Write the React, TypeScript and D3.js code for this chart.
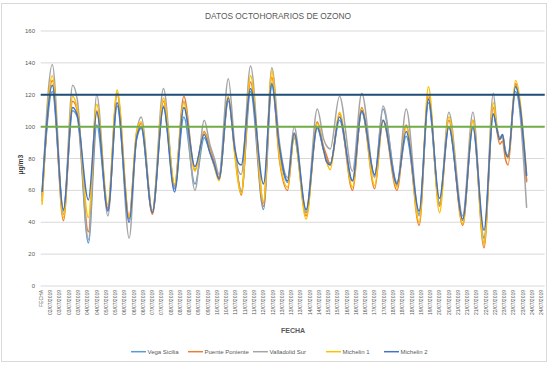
import React from 'react';
import * as d3 from 'd3';

// hours counted from 02/07/2019 00:00 (first row of data is 07:00)
const hours = [
  7, 18, 30, 40, 45, 57, 66, 78, 88, 101, 109, 114, 126, 138, 150, 160, 172, 182, 188, 193,
  198, 208, 215, 219, 222, 232, 246, 255, 263, 272, 279, 292, 304, 311, 314, 318, 328, 342, 352, 366,
  375, 390, 400, 414, 424, 436, 446, 461, 472, 484, 494, 498, 501, 504, 507, 510, 518, 530,
];

const vegaSicilia = [
  57, 122, 47, 110, 106, 27, 101, 48, 113, 42, 92, 99, 46, 113, 61, 106, 64, 93, 84, 75,
  68, 116, 85, 66, 59, 122, 48, 126, 85, 65, 93, 46, 99, 85, 80, 77, 104, 66, 109, 69,
  111, 65, 94, 45, 115, 52, 100, 41, 100, 30, 108, 98, 92, 94, 84, 82, 122, 66,
];
const puentePoniente = [
  53, 129, 41, 116, 110, 34, 110, 49, 121, 43, 95, 102, 45, 116, 63, 119, 73, 97, 87, 77,
  68, 118, 84, 65, 57, 128, 50, 131, 80, 60, 95, 44, 103, 87, 82, 76, 108, 60, 112, 61,
  104, 60, 101, 38, 120, 50, 104, 38, 104, 24, 112, 97, 89, 91, 80, 76, 127, 65,
];
const valladolidSur = [
  56, 139, 45, 126, 117, 29, 120, 44, 121, 30, 96, 106, 47, 124, 62, 116, 60, 104, 89, 80,
  70, 130, 88, 72, 70, 138, 52, 137, 91, 68, 100, 46, 111, 92, 88, 86, 119, 72, 121, 68,
  113, 63, 111, 44, 118, 51, 109, 44, 109, 27, 121, 100, 93, 95, 85, 82, 126, 49,
];
const michelin1 = [
  51, 132, 43, 119, 111, 43, 114, 51, 123, 43, 97, 103, 47, 118, 64, 115, 72, 96, 85, 75,
  66, 119, 82, 64, 58, 132, 53, 135, 82, 62, 94, 42, 102, 85, 78, 73, 109, 62, 111, 63,
  104, 62, 100, 40, 125, 46, 106, 39, 104, 26, 115, 99, 92, 94, 84, 80, 129, 70,
];
const michelin2 = [
  59, 126, 48, 112, 107, 54, 109, 47, 115, 40, 93, 100, 46, 112, 59, 112, 75, 95, 84, 76,
  67, 118, 86, 77, 76, 124, 64, 127, 88, 66, 96, 48, 100, 85, 78, 76, 106, 66, 110, 70,
  104, 64, 97, 47, 117, 55, 100, 42, 100, 35, 108, 98, 92, 95, 84, 81, 125, 69,
];

const seriesNames = ['Vega Sicilia', 'Puente Poniente', 'Valladolid Sur', 'Michelin 1', 'Michelin 2'];
const seriesColors = ['#5B9BD5', '#ED7D31', '#A5A5A5', '#FFC000', '#4472C4'];
const seriesValues = [vegaSicilia, puentePoniente, valladolidSur, michelin1, michelin2];

const limits = [
  { value: 120, color: '#1F4E79' },
  { value: 100, color: '#70AD47' },
];

const yTicks = [0, 20, 40, 60, 80, 100, 120, 140, 160];

const xTickLabels = [
  'FECHA',
  '02/07/2019', '03/07/2019', '03/07/2019', '03/07/2019', '04/07/2019', '04/07/2019',
  '05/07/2019', '05/07/2019', '06/07/2019', '06/07/2019', '06/07/2019', '07/07/2019',
  '07/07/2019', '08/07/2019', '08/07/2019', '08/07/2019', '09/07/2019', '09/07/2019',
  '10/07/2019', '10/07/2019', '11/07/2019', '11/07/2019', '11/07/2019', '12/07/2019',
  '12/07/2019', '13/07/2019', '13/07/2019', '13/07/2019', '14/07/2019', '14/07/2019',
  '15/07/2019', '15/07/2019', '16/07/2019', '16/07/2019', '16/07/2019', '17/07/2019',
  '17/07/2019', '18/07/2019', '18/07/2019', '18/07/2019', '19/07/2019', '19/07/2019',
  '20/07/2019', '20/07/2019', '21/07/2019', '21/07/2019', '21/07/2019', '22/07/2019',
  '22/07/2019', '23/07/2019', '23/07/2019', '23/07/2019', '24/07/2019', '24/07/2019',
];

const W = 558;
const H = 370;
const font = '"Liberation Sans", Arial, sans-serif';
const rowCount = 544;
const labelEvery = 10;
const firstHour = 6;

const plot = { left: 40.7, right: 544.7, top: 31, bottom: 286 };
const legendX = [131, 188, 253, 326, 384];

export default function App() {
  const x = d3
    .scaleBand<number>()
    .domain(d3.range(rowCount))
    .range([plot.left, plot.right])
    .padding(0);
  const bw = x.bandwidth();
  const cx = (row: number) => (x(row) as number) + bw / 2;
  const y = d3.scaleLinear().domain([0, 160]).range([plot.bottom, plot.top]);

  const line = d3
    .line<number>()
    .x((d, i) => cx(hours[i] - firstHour))
    .y((d) => y(d))
    .curve(d3.curveMonotoneX);

  return (
    <svg
      width={W}
      height={H}
      style={{ position: 'absolute', left: 0, top: 0, background: '#fff' }}
      fontFamily={font}
    >
      <rect x={1.5} y={3.5} width={545} height={358} fill="#fff" stroke="#D9D9D9" />
      <text x={278} y={19} textAnchor="middle" fontSize={8.4} fill="#595959">
        DATOS OCTOHORARIOS DE OZONO
      </text>

      {yTicks.map((t) => (
        <g key={t}>
          <line x1={plot.left} x2={plot.right} y1={y(t)} y2={y(t)} stroke="#D9D9D9" strokeWidth={1} />
          <text x={35} y={y(t)} dy="0.35em" textAnchor="end" fontSize={6} fill="#595959">
            {t}
          </text>
        </g>
      ))}

      {xTickLabels.map((lab, i) => (
        <text
          key={i}
          transform={`translate(${cx(i * labelEvery)},${plot.bottom + 4}) rotate(-90)`}
          dy="0.35em"
          textAnchor="end"
          fontSize={5}
          fill="#595959"
        >
          {lab}
        </text>
      ))}

      <text
        transform={`translate(22.5,${(plot.top + plot.bottom) / 2 + 6}) rotate(-90)`}
        textAnchor="middle"
        fontSize={6.8}
        fontWeight="bold"
        fill="#404040"
      >
        µg/m3
      </text>
      <text x={293} y={333} textAnchor="middle" fontSize={7} fontWeight="bold" fill="#595959">
        FECHA
      </text>

      {seriesValues.map((vals, s) => (
        <path
          key={seriesNames[s]}
          d={line(vals) || ''}
          fill="none"
          stroke={seriesColors[s]}
          strokeWidth={1.5}
          strokeLinejoin="round"
        />
      ))}

      {limits.map((l) => (
        <line
          key={l.value}
          x1={plot.left}
          x2={plot.right}
          y1={y(l.value)}
          y2={y(l.value)}
          stroke={l.color}
          strokeWidth={2}
        />
      ))}

      {seriesNames.map((name, s) => (
        <g key={name} transform={`translate(${legendX[s]},351.7)`}>
          <line x1={0} x2={15} y1={0} y2={0} stroke={seriesColors[s]} strokeWidth={1.5} />
          <text x={16.5} y={0} dy="0.35em" fontSize={6} fill="#595959">
            {name}
          </text>
        </g>
      ))}
    </svg>
  );
}
